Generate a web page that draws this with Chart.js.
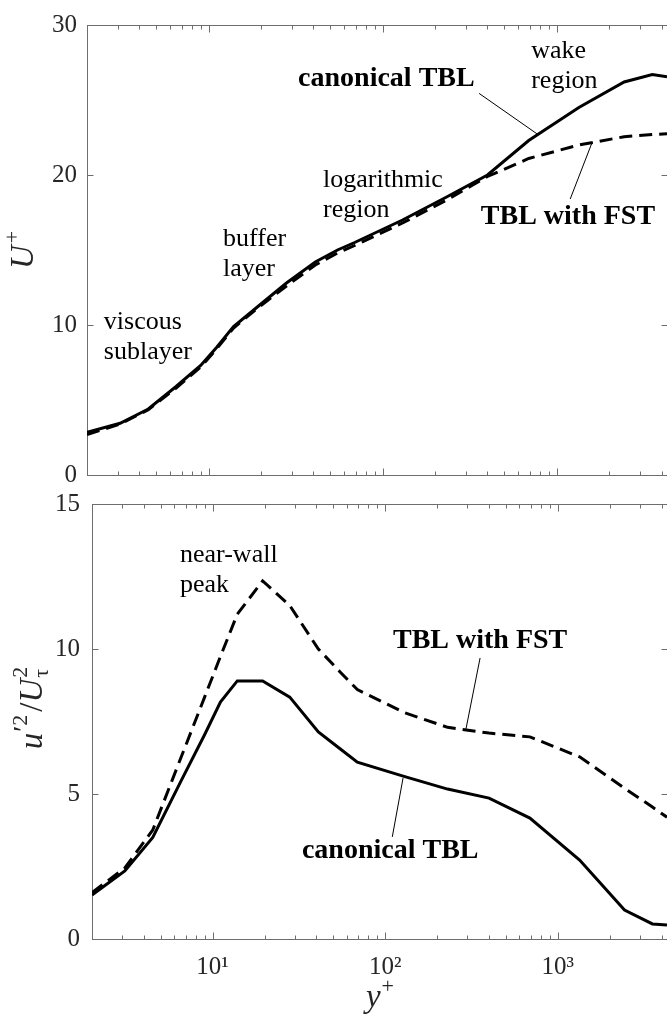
<!DOCTYPE html>
<html>
<head>
<meta charset="utf-8">
<script src="https://cdn.jsdelivr.net/npm/chart.js@4.4.1/dist/chart.umd.min.js"></script>
<style>
  html, body { margin: 0; padding: 0; background: #fff; }
  #wrap { position: relative; width: 667px; height: 1020px; overflow: hidden; }
  #wrap canvas { position: absolute; left: 0; }
  #meanChart { top: 0; }
  #varChart { top: 470px; }
</style>
</head>
<body>
<div id="wrap">
  <canvas id="meanChart" width="667" height="500"></canvas>
  <canvas id="varChart" width="667" height="550"></canvas>
</div>
<script>
// wall-normal stations y+ (shared by every profile)
const yPlus = [2, 3.1, 4.5, 6.5, 9, 11.1, 13.9, 19.5, 28, 41, 55, 69, 130, 230, 400, 690, 1340, 2440, 3540, 4300];

// mean streamwise velocity U+
const meanCanonical = [2.85, 3.45, 4.4, 5.9, 7.3, 8.5, 9.9, 11.3, 12.8, 14.2, 15.0, 15.5, 17.0, 18.5, 20.0, 22.3, 24.5, 26.2, 26.7, 26.55];
const meanFST = [2.7, 3.4, 4.35, 5.8, 7.2, 8.4, 9.8, 11.2, 12.6, 14.0, 14.8, 15.3, 16.8, 18.3, 19.9, 21.1, 22.0, 22.55, 22.7, 22.75];

// streamwise normal stress u'^2 / U_tau^2
const varCanonical = [1.52, 2.35, 3.5, 5.4, 7.05, 8.17, 8.9, 8.9, 8.34, 7.14, 6.55, 6.1, 5.6, 5.17, 4.86, 4.17, 2.72, 1.0, 0.52, 0.48];
const varFST = [1.6, 2.45, 3.76, 6.2, 8.35, 9.74, 11.2, 12.35, 11.5, 10.0, 9.2, 8.6, 7.8, 7.3, 7.1, 6.97, 6.28, 5.2, 4.55, 4.2];

// axis ticks
const xMajor = [10, 100, 1000];
const xMajorLabels = ['10¹', '10²', '10³'];
const xMinor = [2, 3, 4, 5, 6, 7, 8, 9, 20, 30, 40, 50, 60, 70, 80, 90,
                200, 300, 400, 500, 600, 700, 800, 900, 2000, 3000, 4000];
const meanTicks = [0, 10, 20, 30];
const varTicks = [0, 5, 10, 15];

const SERIF = '"Liberation Serif", "Times New Roman", serif';
const AXIS_COLOR = '#6e6e6e';
const LABEL_COLOR = '#262626';

// text callouts, anchored in data coordinates
const meanNotes = [
  { lines: ['viscous', 'sublayer'], at: [2.5, 9.72] },
  { lines: ['buffer', 'layer'], at: [12.1, 15.26] },
  { lines: ['logarithmic', 'region'], at: [45.4, 19.18] },
  { lines: ['wake', 'region'], at: [713, 27.8] },
  { lines: ['canonical TBL'], at: [105, 25.96], bold: true, leader: [[358, 25.44], [780, 22.7]] },
  { lines: ['TBL with FST'], at: [1160, 16.76], bold: true, leader: [[1195, 18.4], [1600, 22.2]] }
];
const varNotes = [
  { lines: ['near-wall', 'peak'], at: [6.47, 13.0] },
  { lines: ['TBL with FST'], at: [355, 10.03], bold: true, leader: [[355, 9.69], [294, 7.24]] },
  { lines: ['canonical TBL'], at: [107, 2.79], bold: true, leader: [[110, 3.52], [127, 5.55]] }
];

const bigItalic = 'italic 33px ' + SERIF;
const small = '22px ' + SERIF;

// axis titles as runs of text pieces (for sub/superscripts)
const meanTitles = [
  { x: 33, y: 250, angle: -Math.PI / 2, parts: [
    { text: ['U'], font: bigItalic, dy: [0], gap: 2 },
    { text: ['+'], font: small, dy: [-14] }
  ] }
];
const varTitles = [
  { x: 42, y: 238, angle: -Math.PI / 2, parts: [
    { text: ['u'], font: bigItalic, dy: [0], gap: 1 },
    { text: ['′'], font: '28px ' + SERIF, dy: [-10] },
    { text: ['2'], font: small, dy: [-15], gap: 3 },
    { text: ['/'], font: '33px ' + SERIF, dy: [0] },
    { text: ['U'], font: bigItalic, dy: [0], gap: 1 },
    { text: ['2', 'τ'], font: small, dy: [-15, 6] }
  ] },
  { x: 380, y: 537, angle: 0, parts: [
    { text: ['y'], font: bigItalic, dy: [0], gap: 1 },
    { text: ['+'], font: small, dy: [-14] }
  ] }
];

function points(xs, ys) {
  return xs.map((x, i) => ({ x: x, y: ys[i] }));
}

function drawMath(ctx, parts, cx, cy, angle) {
  ctx.save();
  ctx.translate(cx, cy);
  ctx.rotate(angle);
  ctx.textAlign = 'left';
  ctx.textBaseline = 'alphabetic';
  ctx.fillStyle = LABEL_COLOR;
  let total = 0;
  const widths = parts.map(p => {
    ctx.font = p.font;
    let w = 0;
    p.text.forEach(t => { w = Math.max(w, ctx.measureText(t).width); });
    w += p.gap || 0;
    total += w;
    return w;
  });
  let x = -total / 2;
  parts.forEach((p, i) => {
    ctx.font = p.font;
    p.text.forEach((t, j) => ctx.fillText(t, x, p.dy[j]));
    x += widths[i];
  });
  ctx.restore();
}

// MATLAB-like box with inward ticks on all four sides, plus callouts and titles
function framePlugin(yTicks, notes, titles) {
  return {
    id: 'frame',
    beforeDatasetsDraw(chart) {
      const { ctx, chartArea: a, scales: { x, y } } = chart;
      const L = Math.round(a.left) + 0.5, R = Math.round(a.right) + 0.5;
      const T = Math.round(a.top) + 0.5, B = Math.round(a.bottom) + 0.5;
      ctx.save();
      ctx.strokeStyle = AXIS_COLOR;
      ctx.lineWidth = 1;
      ctx.strokeRect(L, T, R - L, B - T);
      ctx.beginPath();
      const tickX = (v, len) => {
        const px = Math.round(x.getPixelForValue(v)) + 0.5;
        ctx.moveTo(px, B); ctx.lineTo(px, B - len);
        ctx.moveTo(px, T); ctx.lineTo(px, T + len);
      };
      xMajor.forEach(v => tickX(v, 7));
      xMinor.forEach(v => tickX(v, 4));
      yTicks.forEach(v => {
        const py = Math.round(y.getPixelForValue(v)) + 0.5;
        ctx.moveTo(L, py); ctx.lineTo(L + 6, py);
        ctx.moveTo(R, py); ctx.lineTo(R - 6, py);
      });
      ctx.stroke();
      ctx.restore();
    },
    afterDatasetsDraw(chart) {
      const { ctx, scales: { x, y } } = chart;
      ctx.save();
      ctx.fillStyle = '#000';
      ctx.strokeStyle = '#000';
      ctx.lineWidth = 1;
      ctx.textBaseline = 'alphabetic';
      notes.forEach(n => {
        ctx.font = n.bold ? 'bold 28px ' + SERIF : '26px ' + SERIF;
        ctx.textAlign = n.bold ? 'center' : 'left';
        const px = x.getPixelForValue(n.at[0]);
        const py = y.getPixelForValue(n.at[1]);
        n.lines.forEach((line, i) => ctx.fillText(line, px, py + i * 29.5));
        if (n.leader) {
          ctx.beginPath();
          ctx.moveTo(x.getPixelForValue(n.leader[0][0]), y.getPixelForValue(n.leader[0][1]));
          ctx.lineTo(x.getPixelForValue(n.leader[1][0]), y.getPixelForValue(n.leader[1][1]));
          ctx.stroke();
        }
      });
      ctx.restore();
    },
    afterDraw(chart) {
      titles.forEach(t => drawMath(chart.ctx, t.parts, t.x, t.y, t.angle));
    }
  };
}

function profileChart(id, cfg) {
  return new Chart(document.getElementById(id), {
    type: 'line',
    data: {
      datasets: [
        { label: 'canonical TBL', data: points(yPlus, cfg.canonical), borderColor: '#000',
          borderWidth: 3, pointRadius: 0, fill: false, tension: 0 },
        { label: 'TBL with FST', data: points(yPlus, cfg.fst), borderColor: '#000',
          borderWidth: 3, borderDash: [13, 7], pointRadius: 0, fill: false, tension: 0 }
      ]
    },
    options: {
      responsive: false,
      animation: false,
      devicePixelRatio: 1,
      layout: { padding: { top: cfg.padTop, left: 0, right: 0, bottom: 0 } },
      plugins: {
        legend: { display: false },
        tooltip: { enabled: false }
      },
      scales: {
        x: {
          type: 'logarithmic',
          min: 2,
          max: 4300,
          grid: { display: false, drawTicks: false },
          border: { display: false },
          afterBuildTicks: s => { s.ticks = xMajor.map(v => ({ value: v })); },
          afterFit: s => { s.height = cfg.xHeight; },
          ticks: {
            display: cfg.xLabels,
            autoSkip: false,
            maxRotation: 0,
            padding: 13,
            color: LABEL_COLOR,
            font: { family: SERIF, size: 25 },
            callback: v => xMajorLabels[xMajor.indexOf(v)] || ''
          }
        },
        y: {
          min: cfg.yTicks[0],
          max: cfg.yTicks[cfg.yTicks.length - 1],
          grid: { display: false, drawTicks: false },
          border: { display: false },
          afterBuildTicks: s => { s.ticks = cfg.yTicks.map(v => ({ value: v })); },
          afterFit: s => { s.width = cfg.yWidth; },
          ticks: {
            padding: cfg.yPad,
            color: LABEL_COLOR,
            font: { family: SERIF, size: 25 }
          }
        }
      }
    },
    plugins: [framePlugin(cfg.yTicks, cfg.notes, cfg.titles)]
  });
}

profileChart('meanChart', {
  canonical: meanCanonical,
  fst: meanFST,
  yTicks: meanTicks,
  notes: meanNotes,
  titles: meanTitles,
  padTop: 19,
  xHeight: 21,
  yWidth: 87,
  yPad: 10,
  xLabels: false
});

profileChart('varChart', {
  canonical: varCanonical,
  fst: varFST,
  yTicks: varTicks,
  notes: varNotes,
  titles: varTitles,
  padTop: 34,
  xHeight: 81,
  yWidth: 92,
  yPad: 12,
  xLabels: true
});
</script>
</body>
</html>
